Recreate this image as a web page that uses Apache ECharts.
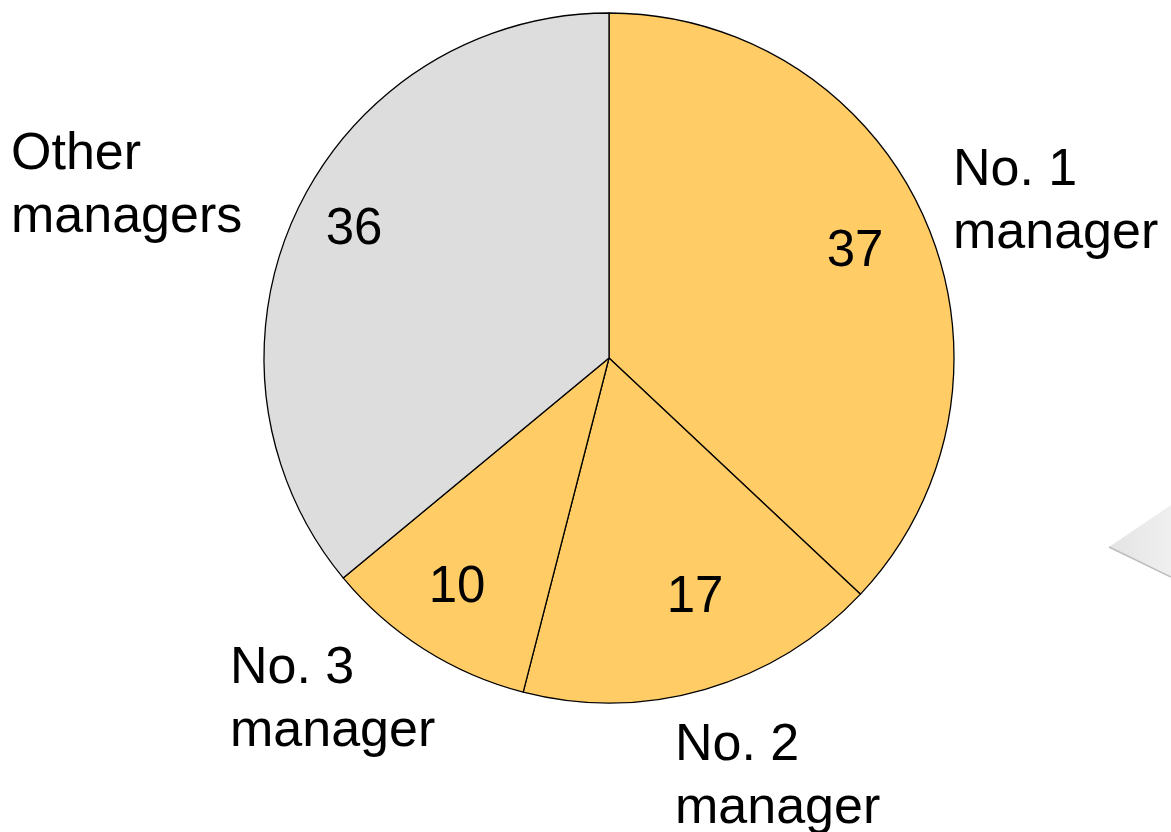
<!DOCTYPE html>
<html>
<head>
<meta charset="utf-8">
<script src="https://cdn.jsdelivr.net/npm/echarts@6/dist/echarts.min.js"></script>
<style>
  html, body { margin: 0; padding: 0; background: #ffffff; }
  #chart { width: 1171px; height: 832px; }
</style>
</head>
<body>
<div id="chart"></div>
<script>
// Share of assets by manager (%)
const categories = ['No. 1 manager', 'No. 2 manager', 'No. 3 manager', 'Other managers'];
const shares = [37, 17, 10, 36];
const sliceColors = ['#FFCC66', '#FFCC66', '#FFCC66', '#DDDDDD'];

// Where each label block sits on the canvas
const nameAnchors = [[953, 202], [675, 777], [230, 700], [11, 186]];
const valueAnchors = [[855, 252], [695, 598], [457, 588], [354, 230]];

const FONT = '"Liberation Sans", Arial, sans-serif';

const chart = echarts.init(document.getElementById('chart'), null, { renderer: 'canvas' });

const pieData = categories.map((name, i) => ({
  name: name,
  value: shares[i],
  itemStyle: { color: sliceColors[i] }
}));

const pieBase = {
  type: 'pie',
  center: [609, 358],
  radius: 345,
  startAngle: 90,
  clockwise: true,
  silent: true,
  avoidLabelOverlap: false,
  labelLine: { show: false },
  emphasis: { disabled: true }
};

chart.setOption({
  animation: false,
  backgroundColor: '#ffffff',
  graphic: [
    {
      type: 'polygon',
      shape: { points: [[1109, 547], [1171, 505], [1171, 577]] },
      style: {
        fill: {
          type: 'linear', x: 0, y: 0, x2: 1, y2: 0,
          colorStops: [
            { offset: 0, color: '#e4e4e4' },
            { offset: 1, color: '#efefef' }
          ]
        }
      },
      silent: true
    },
    {
      type: 'polyline',
      shape: { points: [[1109, 547], [1171, 577]] },
      style: { stroke: '#bdbdbd', lineWidth: 1.5 },
      silent: true
    }
  ],
  series: [
    Object.assign({}, pieBase, {
      name: 'share',
      data: pieData,
      itemStyle: { borderColor: '#000000', borderWidth: 1.3 },
      label: {
        show: true,
        position: 'inside',
        formatter: '{c}',
        fontSize: 51,
        fontFamily: FONT,
        color: '#000000'
      },
      labelLayout: function (p) {
        const a = valueAnchors[p.dataIndex];
        return { x: a[0], y: a[1], align: 'center', verticalAlign: 'middle' };
      }
    }),
    Object.assign({}, pieBase, {
      name: 'names',
      data: categories.map((name, i) => ({ name: name, value: shares[i] })),
      itemStyle: { color: 'rgba(0,0,0,0)', borderWidth: 0 },
      label: {
        show: true,
        position: 'inside',
        formatter: function (p) { return p.name.replace(/ (managers?)$/, '\n$1'); },
        fontSize: 52,
        lineHeight: 63,
        fontFamily: FONT,
        color: '#000000',
        align: 'left'
      },
      labelLayout: function (p) {
        const a = nameAnchors[p.dataIndex];
        return { x: a[0], y: a[1], align: 'left', verticalAlign: 'middle' };
      }
    })
  ]
});
</script>
</body>
</html>
